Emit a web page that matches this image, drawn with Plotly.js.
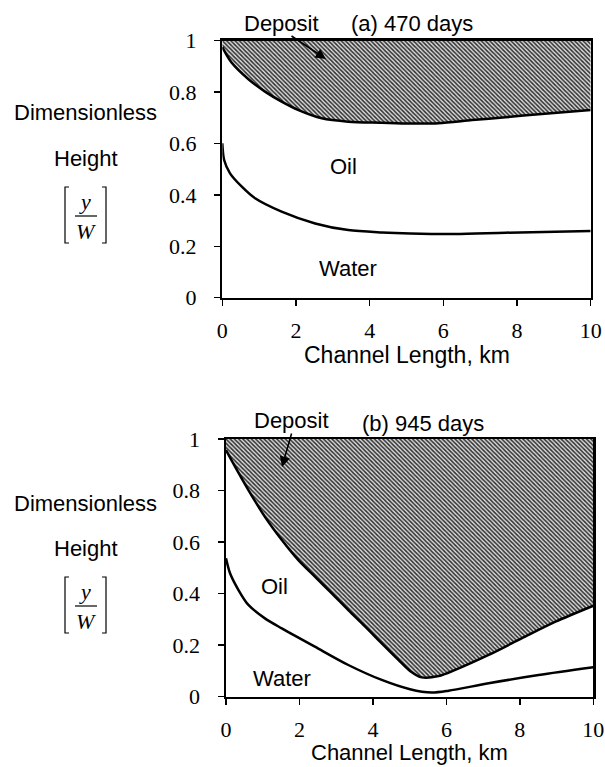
<!DOCTYPE html>
<html>
<head>
<meta charset="utf-8">
<script src="https://cdn.plot.ly/plotly-3.0.1.min.js"></script>
<style>
  html, body { margin: 0; padding: 0; background: #fff; }
  #chart { width: 605px; height: 767px; }
</style>
</head>
<body>
<div id="chart"></div>
<script>
// Interface positions along the channel (dimensionless height y/W vs. length in km)

// (a) 470 days
const depositA_x = [0, 0.25, 0.71, 1.16, 1.61, 2.07, 2.70, 3.42, 4.33, 5.10, 5.87, 6.78, 7.69, 8.59, 10];
const depositA_y = [0.975, 0.915, 0.850, 0.802, 0.763, 0.730, 0.698, 0.685, 0.681, 0.678, 0.679, 0.691, 0.702, 0.714, 0.730];
const waterA_x = [0, 0.05, 0.21, 0.53, 0.89, 1.61, 2.52, 3.42, 4.33, 5.10, 6.32, 7.69, 10];
const waterA_y = [0.601, 0.536, 0.484, 0.432, 0.387, 0.335, 0.289, 0.263, 0.254, 0.250, 0.248, 0.253, 0.260];

// (b) 945 days
const depositB_x = [0, 0.25, 0.61, 1.06, 1.52, 1.97, 2.42, 2.88, 3.33, 3.79, 4.24, 4.70, 5.01, 5.33, 5.79, 6.24, 7.15, 8.06, 8.97, 10];
const depositB_y = [0.957, 0.892, 0.802, 0.698, 0.608, 0.530, 0.466, 0.401, 0.336, 0.272, 0.207, 0.142, 0.100, 0.075, 0.080, 0.104, 0.162, 0.227, 0.291, 0.353];
const waterB_x = [0, 0.11, 0.34, 0.61, 1.06, 1.52, 2.42, 3.33, 4.24, 5.01, 5.60, 6.06, 7.15, 8.51, 10];
const waterB_y = [0.537, 0.479, 0.414, 0.356, 0.304, 0.265, 0.194, 0.123, 0.065, 0.029, 0.016, 0.023, 0.052, 0.084, 0.114];

// Channel wall (top of the channel) and extent
const channelX = [0, 10];
const channelTop = [1, 1];

const panelTitles = ["(a) 470 days", "(b) 945 days"];
const xTitle = "Channel Length, km";
const yTicks = [0, 0.2, 0.4, 0.6, 0.8, 1];
const xTicks = [0, 2, 4, 6, 8, 10];

const W = 605, H = 767;
const px = x => x / W;
const py = y => 1 - y / H;

const SANS = "Liberation Sans, Arial, sans-serif";
const SERIF = "Liberation Serif, Times New Roman, serif";

const hatch = { shape: "\\", size: 3, solidity: 0.5, fgcolor: "#2e2e2e", bgcolor: "#dcdcdc" };
const curveLine = { color: "#000", width: 2.5, shape: "spline", smoothing: 0.8 };

function panelTraces(xa, ya, dx, dy, wx, wy) {
  return [
    { x: channelX, y: channelTop, xaxis: xa, yaxis: ya, mode: "lines",
      line: { width: 0, color: "rgba(0,0,0,0)" }, hoverinfo: "skip", showlegend: false },
    { x: dx, y: dy, xaxis: xa, yaxis: ya, mode: "lines", line: curveLine,
      fill: "tonexty", fillcolor: "rgba(0,0,0,0)", fillpattern: hatch, showlegend: false },
    { x: wx, y: wy, xaxis: xa, yaxis: ya, mode: "lines", line: curveLine, showlegend: false }
  ];
}

const data = [
  ...panelTraces("x", "y", depositA_x, depositA_y, waterA_x, waterA_y),
  ...panelTraces("x2", "y2", depositB_x, depositB_y, waterB_x, waterB_y)
];

function xAxis(domain, anchor) {
  return {
    domain, anchor, range: [0, 10], tickvals: xTicks, ticks: "outside", ticklen: 6,
    tickwidth: 1.5, tickcolor: "#000", showline: true, mirror: true, linewidth: 2.5,
    linecolor: "#000", showgrid: false, zeroline: false, fixedrange: true,
    ticklabelstandoff: 5,
    tickfont: { family: SERIF, size: 22, color: "#000" },
    automargin: false
  };
}
function yAxis(domain, anchor) {
  return {
    domain, anchor, range: [0, 1], tickvals: yTicks, ticks: "outside", ticklen: 6,
    tickwidth: 1.5, tickcolor: "#000", showline: true, mirror: true, linewidth: 2.5,
    linecolor: "#000", showgrid: false, zeroline: false, fixedrange: true,
    ticklabelstandoff: 13,
    tickfont: { family: SERIF, size: 22, color: "#000" },
    automargin: false
  };
}

const txt = (text, x, y, extra) => Object.assign({
  text, x: px(x), y: py(y), xref: "paper", yref: "paper", showarrow: false,
  xanchor: "center", yanchor: "middle", font: { family: SANS, size: 22, color: "#000" }
}, extra || {});

const arrow = (tipX, tipY, tailX, tailY) => ({
  text: "", x: px(tipX), y: py(tipY), xref: "paper", yref: "paper",
  showarrow: true, ax: tailX - tipX, ay: tailY - tipY, arrowhead: 2, arrowsize: 1.3,
  arrowwidth: 1.6, arrowcolor: "#000", standoff: 0
});

const annotations = [];
const shapes = [];
const offsets = [0, 390];
offsets.forEach((off, i) => {
  annotations.push(txt("Dimensionless", 85, 113 + off));
  annotations.push(txt("Height", 86, 158 + off));
  annotations.push(txt("y", 85, 201 + off, { font: { family: SERIF, size: 22, color: "#000", style: "italic" } }));
  annotations.push(txt("W", 86, 231 + off, { font: { family: SERIF, size: 22, color: "#000", style: "italic" } }));
  // fraction bar and brackets
  shapes.push({ type: "line", xref: "paper", yref: "paper", x0: px(75), x1: px(97),
    y0: py(216 + off), y1: py(216 + off), line: { color: "#000", width: 1.2 } });
  shapes.push({ type: "path", xref: "paper", yref: "paper",
    path: `M ${px(69)} ${py(187 + off)} L ${px(65)} ${py(187 + off)} L ${px(65)} ${py(243 + off)} L ${px(69)} ${py(243 + off)}`,
    line: { color: "#000", width: 1.2 } });
  shapes.push({ type: "path", xref: "paper", yref: "paper",
    path: `M ${px(102)} ${py(187 + off)} L ${px(106)} ${py(187 + off)} L ${px(106)} ${py(243 + off)} L ${px(102)} ${py(243 + off)}`,
    line: { color: "#000", width: 1.2 } });
});

// x-axis titles under each panel
annotations.push(txt(xTitle, 406.5, 355, { font: { family: SANS, size: 23, color: "#000" } }));
annotations.push(txt(xTitle, 409.7, 752, { font: { family: SANS, size: 22, color: "#000" } }));

// panel (a)
annotations.push(txt("Deposit", 281, 24));
annotations.push(txt(panelTitles[0], 412, 24));
annotations.push(arrow(326, 59, 290, 35));
annotations.push({ text: "Oil", x: 3.28, y: 0.51, xref: "x", yref: "y", showarrow: false,
  font: { family: SANS, size: 22, color: "#000" } });
annotations.push({ text: "Water", x: 3.42, y: 0.114, xref: "x", yref: "y", showarrow: false,
  font: { family: SANS, size: 22, color: "#000" } });

// panel (b)
annotations.push(txt("Deposit", 291, 420));
annotations.push(txt(panelTitles[1], 423, 423));
annotations.push(arrow(282, 467, 292, 432));
annotations.push({ text: "Oil", x: 1.31, y: 0.427, xref: "x2", yref: "y2", showarrow: false,
  font: { family: SANS, size: 22, color: "#000" } });
annotations.push({ text: "Water", x: 1.52, y: 0.071, xref: "x2", yref: "y2", showarrow: false,
  font: { family: SANS, size: 22, color: "#000" } });

const layout = {
  width: W, height: H,
  margin: { l: 0, r: 0, t: 0, b: 0 },
  paper_bgcolor: "#fff", plot_bgcolor: "#fff",
  showlegend: false,
  xaxis: xAxis([px(222.3), px(590.7)], "y"),
  yaxis: yAxis([py(297.7), py(40.7)], "x"),
  xaxis2: xAxis([px(226), px(593.3)], "y2"),
  yaxis2: yAxis([py(696.7), py(439)], "x2"),
  annotations, shapes
};

Plotly.newPlot("chart", data, layout, { staticPlot: true, displayModeBar: false });
</script>
</body>
</html>
